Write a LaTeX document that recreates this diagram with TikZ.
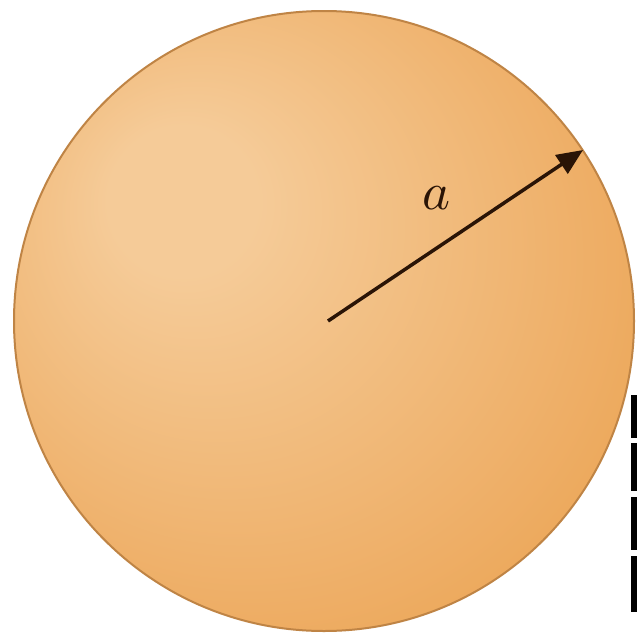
\documentclass[tikz,border=0pt]{standalone}
\usetikzlibrary{arrows.meta}
\usepackage{graphicx}
\definecolor{hi}{HTML}{F5CB98}
\definecolor{midc}{HTML}{EEAE66}
\definecolor{edgec}{HTML}{E6922F}
\definecolor{rimc}{HTML}{BF8445}
\definecolor{arrc}{HTML}{2A1406}
\pgfdeclareradialshading{orb}{\pgfqpoint{-13bp}{11bp}}{color(0bp)=(hi); color(6bp)=(hi); color(28bp)=(midc); color(50bp)=(edgec)}
\tikzset{
  ballshape/.style={shading=orb, draw=rimc, line width=2pt},
  radiusarrow/.style={draw=arrc, line width=3.5pt, -{Triangle[length=26pt,width=22pt]}},
  lbl/.style={inner sep=0pt, text=arrc},
  bar/.style={fill=black, draw=none}
}
\begin{document}
\begin{tikzpicture}[x=1pt,y=-1pt]
\useasboundingbox (0,0) rectangle (637,637);
\fill[white] (0,0) rectangle (637,637);
\coordinate (c) at (324,321);
\shade[ballshape] (c) circle[radius=310];
\coordinate (o) at (328,321);
\coordinate (tip) at (583,150);
\draw[radiusarrow] (o) -- (tip);
\node[lbl] (a) at (437,198) {\scalebox{5.3}{$a$}};
\fill[bar] (631,395) rectangle (637,438);
\fill[bar] (631,443) rectangle (637,491);
\fill[bar] (631,497) rectangle (637,550);
\fill[bar] (631,556) rectangle (637,612);
\end{tikzpicture}
\end{document}
